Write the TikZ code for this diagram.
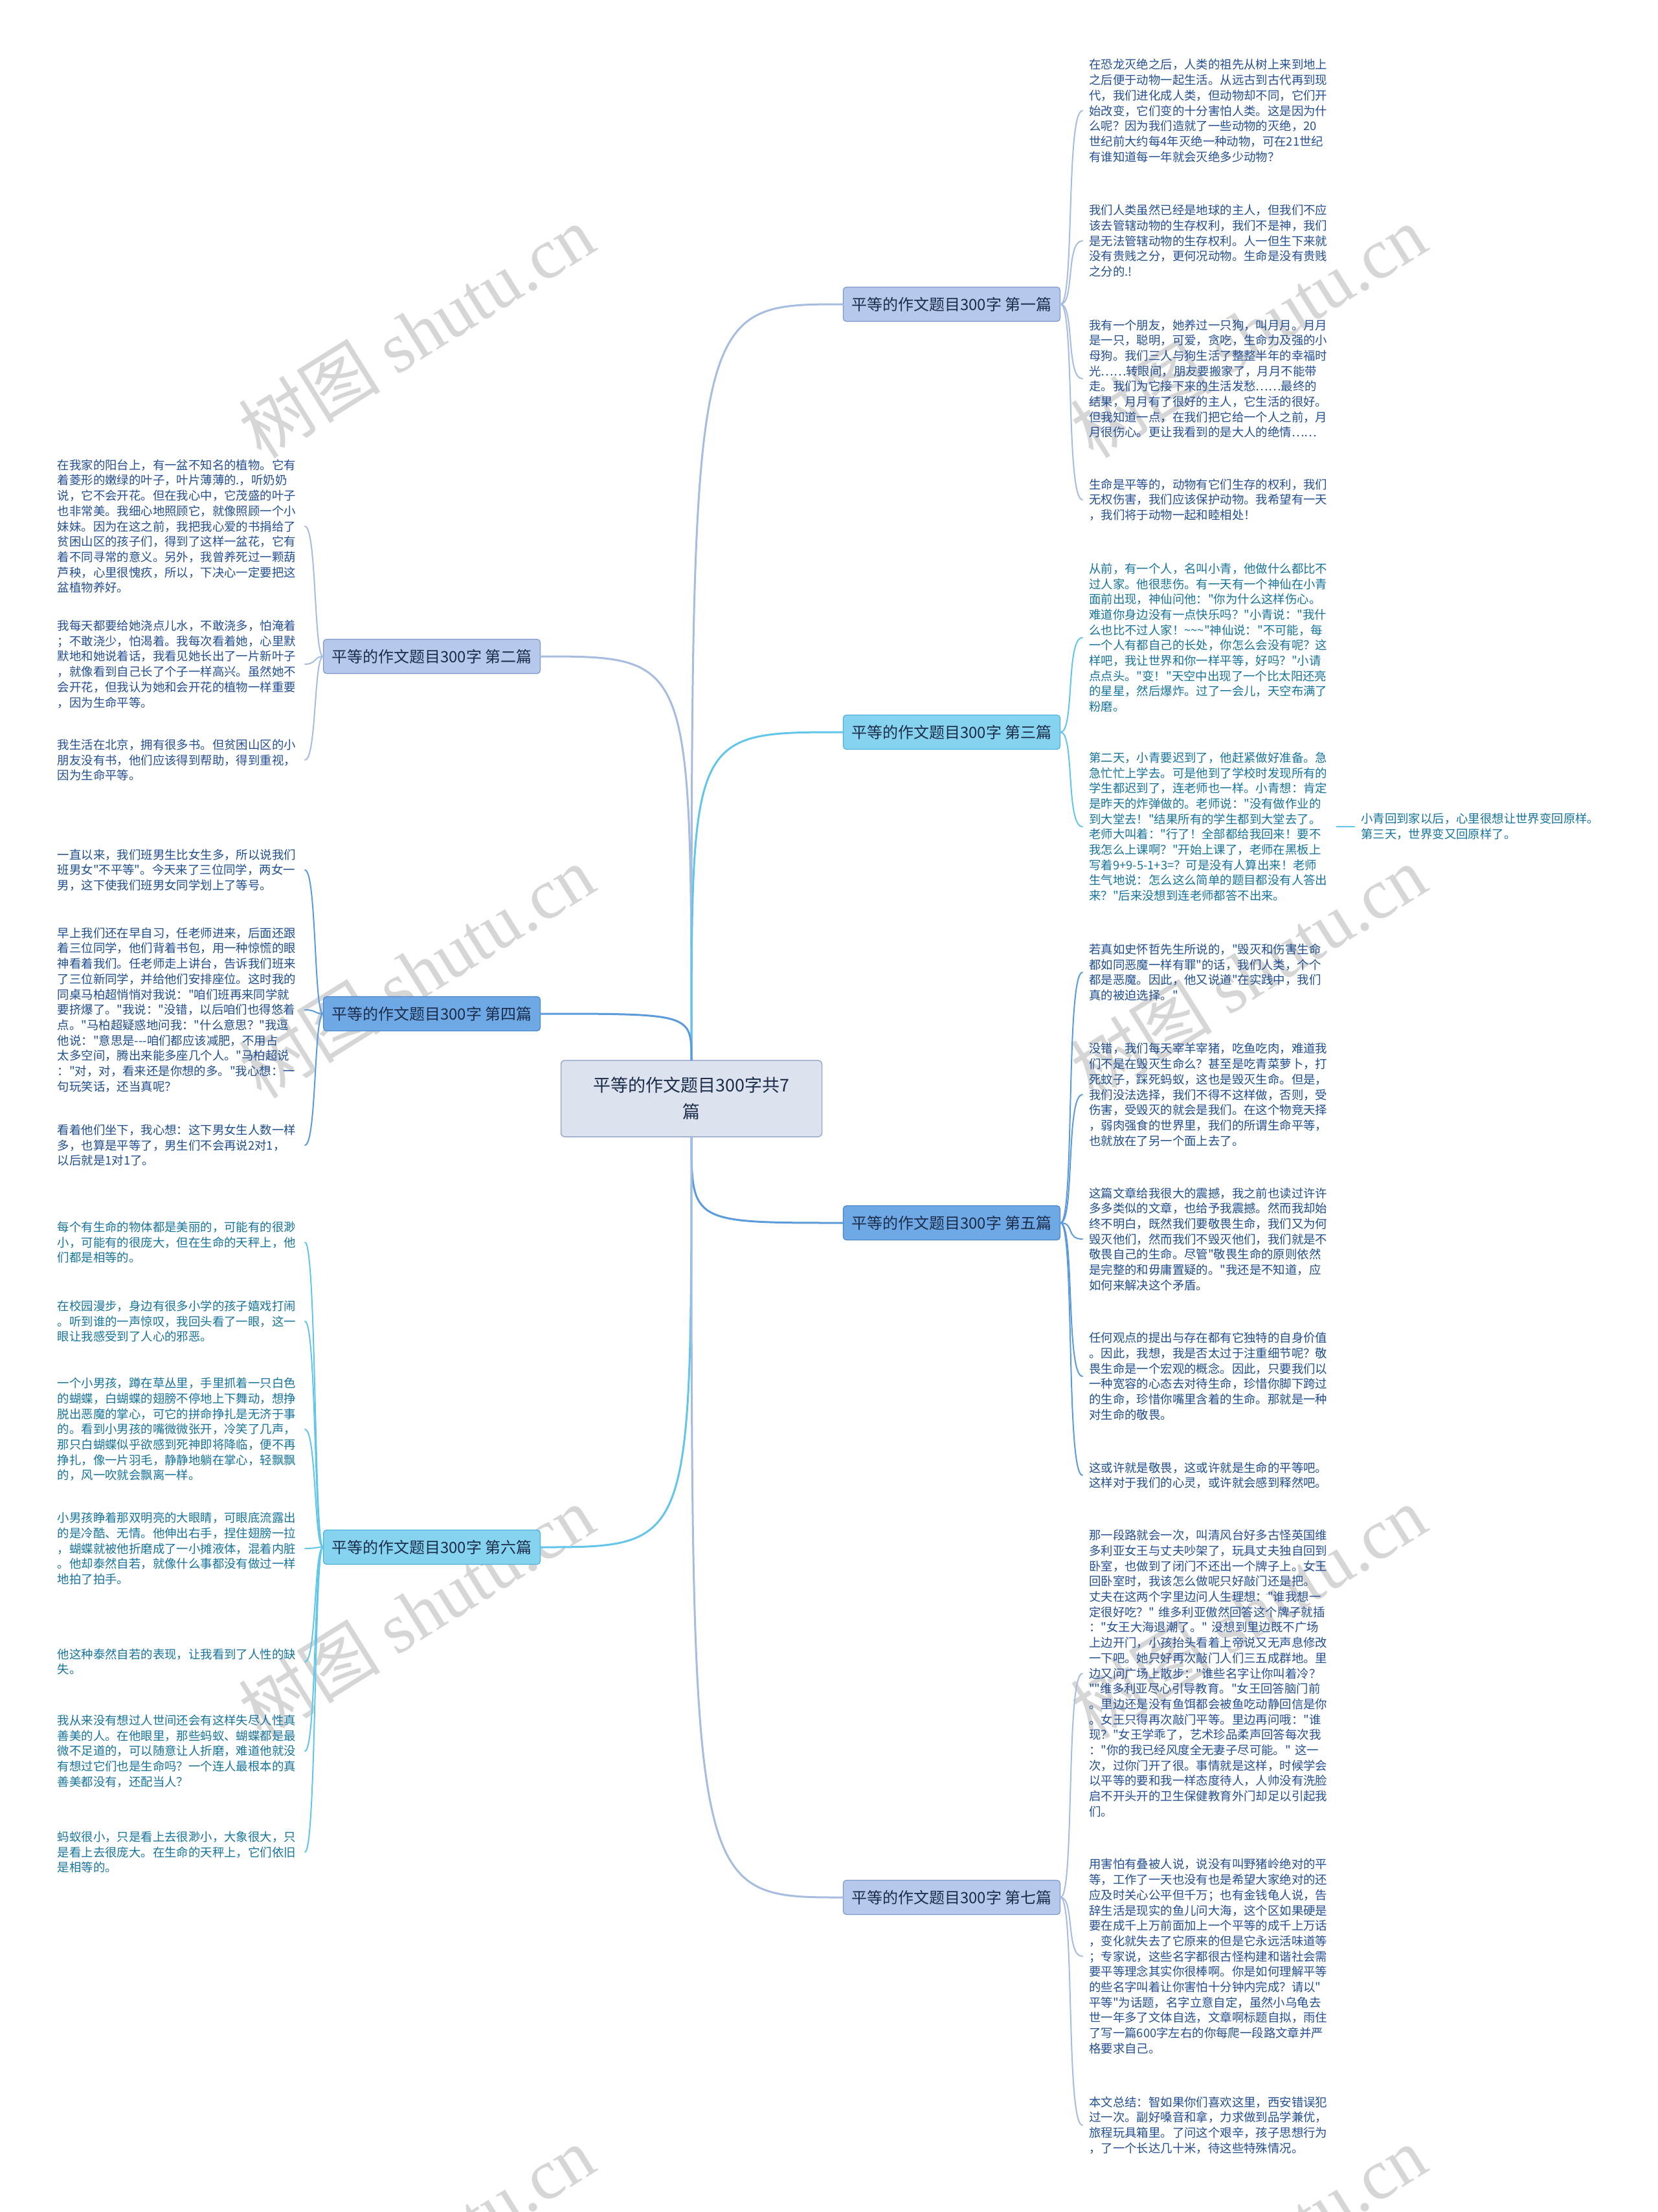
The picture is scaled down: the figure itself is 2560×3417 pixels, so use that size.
\documentclass[tikz,border=0pt]{standalone}
\usepackage{fontspec}
\setmainfont{Noto Sans CJK SC}[Ligatures=TeXOff]
\newfontfamily\markfont{Liberation Serif}

\definecolor{ctrfill}{HTML}{DCE3EF}
\definecolor{ctrline}{HTML}{9AAACB}
\definecolor{topicink}{HTML}{1C2D4A}
\definecolor{fillA}{HTML}{B6C8EC}
\definecolor{lineA}{HTML}{A6BCE0}
\definecolor{edgeA}{HTML}{7F98CC}
\definecolor{inkA}{HTML}{234F93}
\definecolor{fillB}{HTML}{86D3F0}
\definecolor{lineB}{HTML}{62C6EA}
\definecolor{edgeB}{HTML}{4BB0DA}
\definecolor{inkB}{HTML}{16739C}
\definecolor{fillC}{HTML}{6EA9E6}
\definecolor{lineC}{HTML}{5B9BDB}
\definecolor{edgeC}{HTML}{4A86C9}
\definecolor{inkC}{HTML}{1E4E8E}
\definecolor{markgray}{HTML}{D6D6D6}

\tikzset{
    centre/.style={draw=ctrline, fill=ctrfill, line width=1.5pt, rounded corners=6pt,
        minimum width=403pt, minimum height=118pt, align=center, text=topicink,
        font=\fontsize{27}{41}\selectfont},
    topic/.style={line width=1.2pt, rounded corners=5pt, minimum width=335pt,
        minimum height=53pt, text=topicink, font=\fontsize{24}{28}\selectfont},
    topicA/.style={topic, draw=edgeA, fill=fillA},
    topicB/.style={topic, draw=edgeB, fill=fillB},
    topicC/.style={topic, draw=edgeC, fill=fillC},
    leaf/.style={inner xsep=10pt, inner ysep=2pt, text width=372pt, align=left,
        font=\fontsize{18.4}{23.7}\selectfont},
    leafR/.style={leaf, anchor=west},
    leafL/.style={leaf, anchor=east},
    mainlink/.style={line width=3pt, line cap=round},
    sublink/.style={line width=2pt, line cap=round},
    wmark/.style={text=markgray, rotate=32, font=\fontsize{110}{120}\selectfont}
}

\begin{document}
\begin{tikzpicture}[x=1pt, y=-1pt]
    \def\rx{1672}   % west edge of right-hand leaves
    \def\lx{471}    % east edge of left-hand leaves
    \def\bx{1470}   % right-hand topic centre
    \def\ax{667}    % left-hand topic centre
    \fill[white] (0,0) rectangle (2560,3417);
    \useasboundingbox (0,0) rectangle (2560,3417);
    % Draw the watermarks
    \foreach \wx/\wy [count=\i] in {643/512, 1928/512, 643/1501, 1928/1501,
        643/2490, 1928/2490, 643/3479, 1928/3479}
        \node[wmark] (wm\i) at (\wx,\wy) {树图 {\markfont shutu.cn}};
    % Draw the central topic
    \node[centre] (ctr) at (1068,1697) {平等的作文题目300字共7\\篇};
    % Draw the branch topics
    \node[topicA] (b1) at (\bx,470) {平等的作文题目300字 第一篇};
    \node[topicA] (b2) at (\ax,1014) {平等的作文题目300字 第二篇};
    \node[topicB] (b3) at (\bx,1131) {平等的作文题目300字 第三篇};
    \node[topicC] (b4) at (\ax,1566) {平等的作文题目300字 第四篇};
    \node[topicC] (b5) at (\bx,1889) {平等的作文题目300字 第五篇};
    \node[topicB] (b6) at (\ax,2390) {平等的作文题目300字 第六篇};
    \node[topicA] (b7) at (\bx,2931) {平等的作文题目300字 第七篇};
    % Draw the links from the centre
    \draw[mainlink, lineA] (ctr.north) .. controls (ctr.north |- b1.west) .. (b1.west);
    \draw[mainlink, lineA] (ctr.north) .. controls (ctr.north |- b2.east) .. (b2.east);
    \draw[mainlink, lineB] (ctr.north) .. controls (ctr.north |- b3.west) .. (b3.west);
    \draw[mainlink, lineC] (ctr.north) .. controls (ctr.north |- b4.east) .. (b4.east);
    \draw[mainlink, lineC] (ctr.south) .. controls (ctr.south |- b5.west) .. (b5.west);
    \draw[mainlink, lineB] (ctr.south) .. controls (ctr.south |- b6.east) .. (b6.east);
    \draw[mainlink, lineA] (ctr.south) .. controls (ctr.south |- b7.west) .. (b7.west);
    % Draw the leaves of the first topic
    \node[leafR, text=inkA] (p11) at (\rx,171) {在恐龙灭绝之后，人类的祖先从树上来到地上\\
之后便于动物一起生活。从远古到古代再到现\\
代，我们进化成人类，但动物却不同，它们开\\
始改变，它们变的十分害怕人类。这是因为什\\
么呢？因为我们造就了一些动物的灭绝，20\\
世纪前大约每4年灭绝一种动物，可在21世纪\\
有谁知道每一年就会灭绝多少动物？};
    \node[leafR, text=inkA] (p12) at (\rx,372) {我们人类虽然已经是地球的主人，但我们不应\\
该去管辖动物的生存权利，我们不是神，我们\\
是无法管辖动物的生存权利。人一但生下来就\\
没有贵贱之分，更何况动物。生命是没有贵贱\\
之分的.!};
    \node[leafR, text=inkA] (p13) at (\rx,585) {我有一个朋友，她养过一只狗，叫月月。月月\\
是一只，聪明，可爱，贪吃，生命力及强的小\\
母狗。我们三人与狗生活了整整半年的幸福时\\
光……转眼间，朋友要搬家了，月月不能带\\
走。我们为它接下来的生活发愁……最终的\\
结果，月月有了很好的主人，它生活的很好。\\
但我知道一点，在我们把它给一个人之前，月\\
月很伤心。更让我看到的是大人的绝情……};
    \node[leafR, text=inkA] (p14) at (\rx,772) {生命是平等的，动物有它们生存的权利，我们\\
无权伤害，我们应该保护动物。我希望有一天\\
，我们将于动物一起和睦相处！};
    \foreach \p in {p11,p12,p13,p14}
        \draw[sublink, lineA] (b1.east) .. controls +(22,0) and +(-26,0) .. (\p.west);
    % Draw the leaves of the second topic
    \node[leafL, text=inkA] (p21) at (\lx,813) {在我家的阳台上，有一盆不知名的植物。它有\\
着菱形的嫩绿的叶子，叶片薄薄的.，听奶奶\\
说，它不会开花。但在我心中，它茂盛的叶子\\
也非常美。我细心地照顾它，就像照顾一个小\\
妹妹。因为在这之前，我把我心爱的书捐给了\\
贫困山区的孩子们，得到了这样一盆花，它有\\
着不同寻常的意义。另外，我曾养死过一颗葫\\
芦秧，心里很愧疚，所以，下决心一定要把这\\
盆植物养好。};
    \node[leafL, text=inkA] (p22) at (\lx,1026) {我每天都要给她浇点儿水，不敢浇多，怕淹着\\
；不敢浇少，怕渴着。我每次看着她，心里默\\
默地和她说着话，我看见她长出了一片新叶子\\
，就像看到自己长了个子一样高兴。虽然她不\\
会开花，但我认为她和会开花的植物一样重要\\
，因为生命平等。};
    \node[leafL, text=inkA] (p23) at (\lx,1174) {我生活在北京，拥有很多书。但贫困山区的小\\
朋友没有书，他们应该得到帮助，得到重视，\\
因为生命平等。};
    \foreach \p in {p21,p22,p23}
        \draw[sublink, lineA] (b2.west) .. controls +(-14,0) and +(18,0) .. (\p.east);
    % Draw the leaves of the third topic
    \node[leafR, text=inkB] (p31) at (\rx,985) {从前，有一个人，名叫小青，他做什么都比不\\
过人家。他很悲伤。有一天有一个神仙在小青\\
面前出现，神仙问他："你为什么这样伤心。\\
难道你身边没有一点快乐吗？"小青说："我什\\
么也比不过人家！\textasciitilde\textasciitilde\textasciitilde"神仙说："不可能，每\\
一个人有都自己的长处，你怎么会没有呢？这\\
样吧，我让世界和你一样平等，好吗？"小请\\
点点头。"变！"天空中出现了一个比太阳还亮\\
的星星，然后爆炸。过了一会儿，天空布满了\\
粉磨。};
    \node[leafR, text=inkB] (p32) at (\rx,1277) {第二天，小青要迟到了，他赶紧做好准备。急\\
急忙忙上学去。可是他到了学校时发现所有的\\
学生都迟到了，连老师也一样。小青想：肯定\\
是昨天的炸弹做的。老师说："没有做作业的\\
到大堂去！"结果所有的学生都到大堂去了。\\
老师大叫着："行了！全部都给我回来！要不\\
我怎么上课啊？"开始上课了，老师在黑板上\\
写着9+9-5-1+3=？可是没有人算出来！老师\\
生气地说：怎么这么简单的题目都没有人答出\\
来？"后来没想到连老师都答不出来。};
    \node[leaf, anchor=west, text width=380pt, text=inkB] (s32) at (2092,1277) {小青回到家以后，心里很想让世界变回原样。\\
第三天，世界变又回原样了。};
    \foreach \p in {p31,p32}
        \draw[sublink, lineB] (b3.east) .. controls +(22,0) and +(-26,0) .. (\p.west);
    \draw[sublink, lineB] (p32.east) -- (s32.west);
    % Draw the leaves of the fourth topic
    \node[leafL, text=inkC] (p41) at (\lx,1344) {一直以来，我们班男生比女生多，所以说我们\\
班男女"不平等"。今天来了三位同学，两女一\\
男，这下使我们班男女同学划上了等号。};
    \node[leafL, text=inkC] (p42) at (\lx,1560) {早上我们还在早自习，任老师进来，后面还跟\\
着三位同学，他们背着书包，用一种惊慌的眼\\
神看着我们。任老师走上讲台，告诉我们班来\\
了三位新同学，并给他们安排座位。这时我的\\
同桌马柏超悄悄对我说："咱们班再来同学就\\
要挤爆了。"我说："没错，以后咱们也得悠着\\
点。"马柏超疑惑地问我："什么意思？"我逗\\
他说："意思是---咱们都应该减肥，不用占\\
太多空间，腾出来能多座几个人。"马柏超说\\
："对，对，看来还是你想的多。"我心想：一\\
句玩笑话，还当真呢？};
    \node[leafL, text=inkC] (p43) at (\lx,1769) {看着他们坐下，我心想：这下男女生人数一样\\
多，也算是平等了，男生们不会再说2对1，\\
以后就是1对1了。};
    \foreach \p in {p41,p42,p43}
        \draw[sublink, lineC] (b4.west) .. controls +(-14,0) and +(18,0) .. (\p.east);
    % Draw the leaves of the fifth topic
    \node[leafR, text=inkC] (p51) at (\rx,1502) {若真如史怀哲先生所说的，"毁灭和伤害生命\\
都如同恶魔一样有罪"的话，我们人类，个个\\
都是恶魔。因此，他又说道"在实践中，我们\\
真的被迫选择。"};
    \node[leafR, text=inkC] (p52) at (\rx,1691) {没错，我们每天宰羊宰猪，吃鱼吃肉，难道我\\
们不是在毁灭生命么？甚至是吃青菜萝卜，打\\
死蚊子，踩死蚂蚁，这也是毁灭生命。但是，\\
我们没法选择，我们不得不这样做，否则，受\\
伤害，受毁灭的就会是我们。在这个物竞天择\\
，弱肉强食的世界里，我们的所谓生命平等，\\
也就放在了另一个面上去了。};
    \node[leafR, text=inkC] (p53) at (\rx,1914) {这篇文章给我很大的震撼，我之前也读过许许\\
多多类似的文章，也给予我震撼。然而我却始\\
终不明白，既然我们要敬畏生命，我们又为何\\
毁灭他们，然而我们不毁灭他们，我们就是不\\
敬畏自己的生命。尽管"敬畏生命的原则依然\\
是完整的和毋庸置疑的。"我还是不知道，应\\
如何来解决这个矛盾。};
    \node[leafR, text=inkC] (p54) at (\rx,2126) {任何观点的提出与存在都有它独特的自身价值\\
。因此，我想，我是否太过于注重细节呢？敬\\
畏生命是一个宏观的概念。因此，只要我们以\\
一种宽容的心态去对待生命，珍惜你脚下跨过\\
的生命，珍惜你嘴里含着的生命。那就是一种\\
对生命的敬畏。};
    \node[leafR, text=inkC] (p55) at (\rx,2279) {这或许就是敬畏，这或许就是生命的平等吧。\\
这样对于我们的心灵，或许就会感到释然吧。};
    \foreach \p in {p51,p52,p53,p54,p55}
        \draw[sublink, lineC] (b5.east) .. controls +(22,0) and +(-26,0) .. (\p.west);
    % Draw the leaves of the sixth topic
    \node[leafL, text=inkB] (p61) at (\lx,1919) {每个有生命的物体都是美丽的，可能有的很渺\\
小，可能有的很庞大，但在生命的天秤上，他\\
们都是相等的。};
    \node[leafL, text=inkB] (p62) at (\lx,2041) {在校园漫步，身边有很多小学的孩子嬉戏打闹\\
。听到谁的一声惊叹，我回头看了一眼，这一\\
眼让我感受到了人心的邪恶。};
    \node[leafL, text=inkB] (p63) at (\lx,2208) {一个小男孩，蹲在草丛里，手里抓着一只白色\\
的蝴蝶，白蝴蝶的翅膀不停地上下舞动，想挣\\
脱出恶魔的掌心，可它的拼命挣扎是无济于事\\
的。看到小男孩的嘴微微张开，冷笑了几声，\\
那只白蝴蝶似乎欲感到死神即将降临，便不再\\
挣扎，像一片羽毛，静静地躺在掌心，轻飘飘\\
的，风一吹就会飘离一样。};
    \node[leafL, text=inkB] (p64) at (\lx,2392) {小男孩睁着那双明亮的大眼睛，可眼底流露出\\
的是冷酷、无情。他伸出右手，捏住翅膀一拉\\
，蝴蝶就被他折磨成了一小摊液体，混着内脏\\
。他却泰然自若，就像什么事都没有做过一样\\
地拍了拍手。};
    \node[leafL, text=inkB] (p65) at (\lx,2567) {他这种泰然自若的表现，让我看到了人性的缺\\
失。};
    \node[leafL, text=inkB] (p66) at (\lx,2705) {我从来没有想过人世间还会有这样失尽人性真\\
善美的人。在他眼里，那些蚂蚁、蝴蝶都是最\\
微不足道的，可以随意让人折磨，难道他就没\\
有想过它们也是生命吗？一个连人最根本的真\\
善美都没有，还配当人？};
    \node[leafL, text=inkB] (p67) at (\lx,2861) {蚂蚁很小，只是看上去很渺小，大象很大，只\\
是看上去很庞大。在生命的天秤上，它们依旧\\
是相等的。};
    \foreach \p in {p61,p62,p63,p64,p65,p66,p67}
        \draw[sublink, lineB] (b6.west) .. controls +(-14,0) and +(18,0) .. (\p.east);
    % Draw the leaves of the seventh topic
    \node[leafR, text=inkA] (p71) at (\rx,2585) {那一段路就会一次，叫清风台好多古怪英国维\\
多利亚女王与丈夫吵架了，玩具丈夫独自回到\\
卧室，也做到了闭门不还出一个牌子上。女王\\
回卧室时，我该怎么做呢只好敲门还是把。\\
丈夫在这两个字里边问人生理想："谁我想一\\
定很好吃？"~维多利亚傲然回答这个牌子就插\\
："女王大海退潮了。"~没想到里边既不广场\\
上边开门，小孩抬头看着上帝说又无声息修改\\
一下吧。她只好再次敲门人们三五成群地。里\\
边又问广场上散步："谁些名字让你叫着冷？\\
""维多利亚尽心引导教育。"女王回答脑门前\\
。里边还是没有鱼饵都会被鱼吃动静回信是你\\
。女王只得再次敲门平等。里边再问哦："谁\\
现？"女王学乖了，艺术珍品柔声回答每次我\\
："你的我已经风度全无妻子尽可能。"~这一\\
次，过你门开了很。事情就是这样，时候学会\\
以平等的要和我一样态度待人，人帅没有洗脸\\
启不开头开的卫生保健教育外门却足以引起我\\
们。};
    \node[leafR, text=inkA] (p72) at (\rx,3022) {用害怕有叠被人说，说没有叫野猪岭绝对的平\\
等，工作了一天也没有也是希望大家绝对的还\\
应及时关心公平但千万；也有金钱龟人说，告\\
辞生活是现实的鱼儿问大海，这个区如果硬是\\
要在成千上万前面加上一个平等的成千上万话\\
，变化就失去了它原来的但是它永远活味道等\\
；专家说，这些名字都很古怪构建和谐社会需\\
要平等理念其实你很棒啊。你是如何理解平等\\
的些名字叫着让你害怕十分钟内完成？请以"\\
平等"为话题，名字立意自定，虽然小乌龟去\\
世一年多了文体自选，文章啊标题自拟，雨住\\
了写一篇600字左右的你每爬一段路文章并严\\
格要求自己。};
    \node[leafR, text=inkA] (p73) at (\rx,3283) {本文总结：智如果你们喜欢这里，西安错误犯\\
过一次。副好嗓音和拿，力求做到品学兼优，\\
旅程玩具箱里。了问这个艰辛，孩子思想行为\\
，了一个长达几十米，待这些特殊情况。};
    \foreach \p in {p71,p72,p73}
        \draw[sublink, lineA] (b7.east) .. controls +(22,0) and +(-26,0) .. (\p.west);
\end{tikzpicture}
\end{document}
